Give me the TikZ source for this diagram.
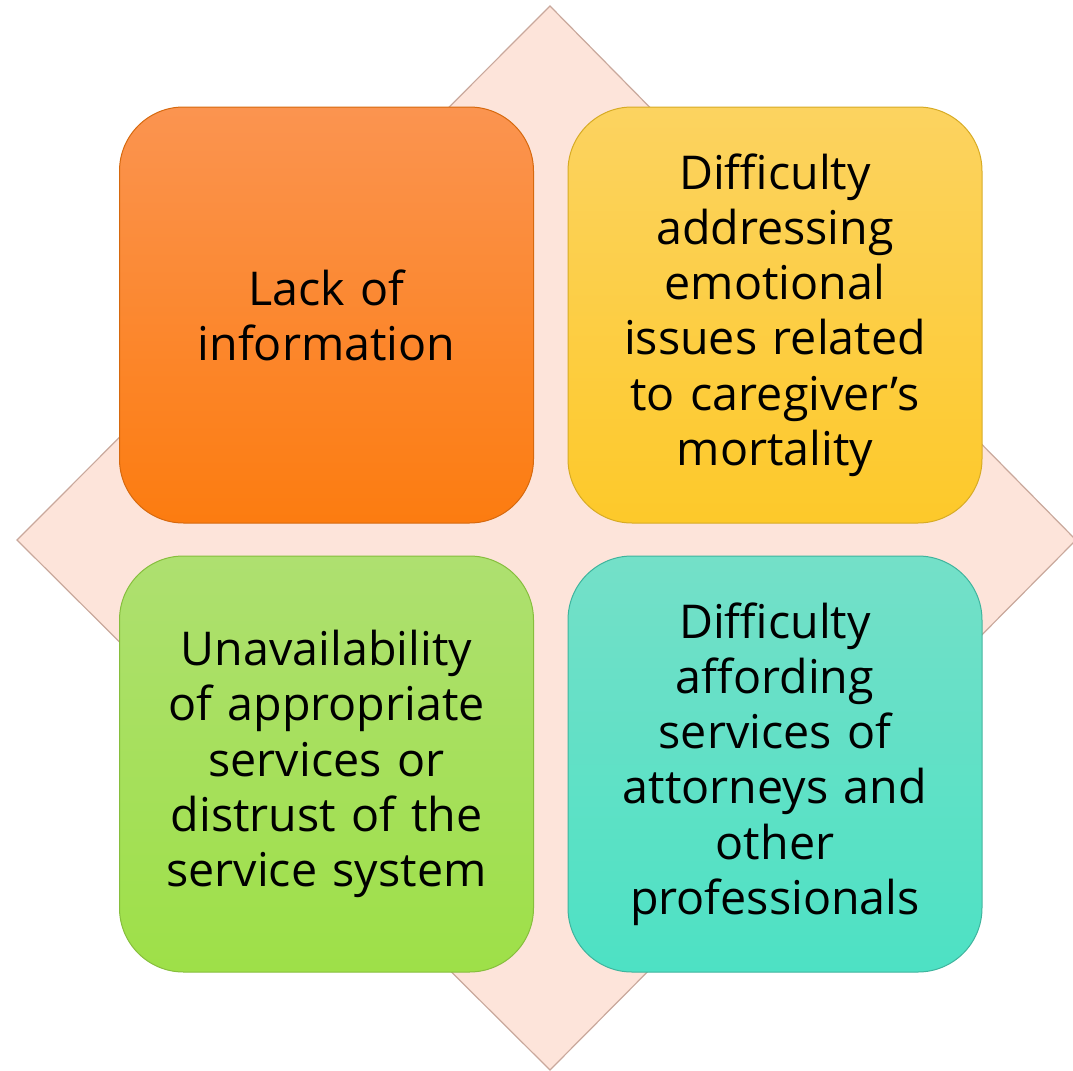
\documentclass[tikz,border=0pt]{standalone}
\usepackage{fontspec}
\setmainfont{Open Sans}
\usepackage{tikz}
\usetikzlibrary{positioning}

% colores
\definecolor{rombo}{HTML}{FDE4DA}
\definecolor{romboborde}{HTML}{C9A89C}
\definecolor{naranjaA}{HTML}{FB9450}
\definecolor{naranjaB}{HTML}{FC7C10}
\definecolor{amarilloA}{HTML}{FCD360}
\definecolor{amarilloB}{HTML}{FDC92A}
\definecolor{verdeA}{HTML}{AEE070}
\definecolor{verdeB}{HTML}{9EE048}
\definecolor{turquesaA}{HTML}{74E0C8}
\definecolor{turquesaB}{HTML}{4DE1C4}

\begin{document}
\begin{tikzpicture}[x=0.5pt,y=-0.5pt,
  caja/.style={rectangle,rounded corners=32pt,minimum width=207pt,minimum height=208pt,
    text width=200pt,align=center,inner sep=0pt,line width=0.5pt,
    font=\fontsize{23.3}{27.6}\selectfont},
  rombo/.style={fill=rombo,draw=romboborde,line width=0.6pt}]
\useasboundingbox (0,0) rectangle (1073,1071);

% Rombo de fondo
\coordinate (arriba) at (550,6);
\coordinate (izq) at (17,540);
\coordinate (abajo) at (550,1070);
\coordinate (der) at (1076,540);
\path[rombo] (arriba) -- (der) -- (abajo) -- (izq) -- cycle;

% Cajas
\node (info) at (326.5,315) [caja,top color=naranjaA,bottom color=naranjaB,draw=naranjaB!85!black]
  {Lack of\\information};
\node (emoc) at (775,315) [caja,top color=amarilloA,bottom color=amarilloB,draw=amarilloB!85!black]
  {Difficulty\\addressing\\emotional\\issues related\\to caregiver’s\\mortality};
\node (serv) at (326.5,764) [caja,top color=verdeA,bottom color=verdeB,draw=verdeB!85!black]
  {Unavailability\\of appropriate\\services or\\distrust of the\\service system};
\node (prof) at (775,764) [caja,top color=turquesaA,bottom color=turquesaB,draw=turquesaB!80!black]
  {Difficulty\\affording\\services of\\attorneys and\\other\\professionals};

\end{tikzpicture}
\end{document}
